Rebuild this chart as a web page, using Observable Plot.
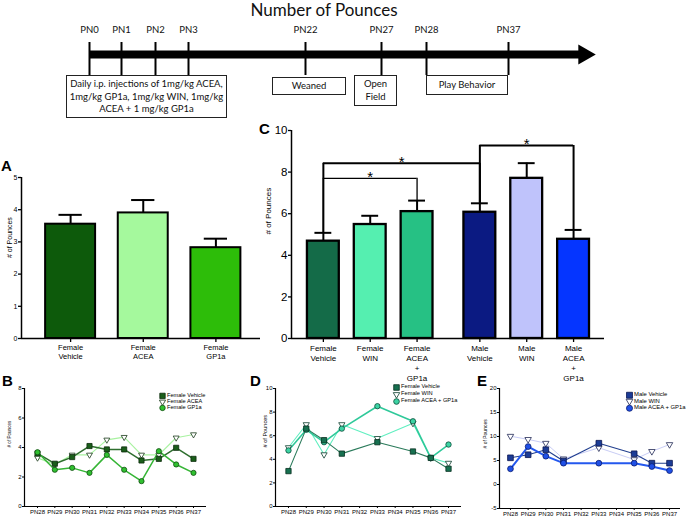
<!DOCTYPE html>
<html><head><meta charset="utf-8">
<script src="https://cdn.jsdelivr.net/npm/d3@7"></script>
<script src="https://cdn.jsdelivr.net/npm/@observablehq/plot@0.6"></script>
<style>
html,body{margin:0;padding:0;background:#fff;overflow:hidden}
#root{position:relative;width:688px;height:518px;font-family:"Liberation Sans",Arial,sans-serif;color:#000}
#root svg.p{position:absolute;left:0;top:0}
.t{position:absolute;white-space:nowrap;line-height:1}
.box{position:absolute;border:1px solid #222;box-sizing:border-box;text-align:center;font-family:Lato,"Open Sans",sans-serif;font-size:9.5px;line-height:12.5px;color:#111}
.lg{position:absolute;font-size:5.7px;line-height:1;white-space:nowrap}
.lg .row{position:absolute;left:0;display:flex;align-items:center}
.lg svg{display:block;overflow:visible}
</style></head>
<body><div id="root"></div>
<script>
// ---------------- data ----------------
const titleText = "Number of Pounces";
const timelineLabels = ["PN0","PN1","PN2","PN3","PN22","PN27","PN28","PN37"];
const timelineDays = [0,1,2,3,22,27,28,37];

const aGroups = ["Female Vehicle","Female ACEA","Female GP1a"];
const aMeans = [3.55, 3.9, 2.82];
const aSems = [0.29, 0.4, 0.28];
const aColors = ["#0d5a0b","#a5f99d","#2dbd09"];

const cGroups = ["Female Vehicle","Female WIN","Female ACEA + GP1a","Male Vehicle","Male WIN","Male ACEA + GP1a"];
const cSex = ["Female","Female","Female","Male","Male","Male"];
const cMeans = [4.68, 5.48, 6.1, 6.07, 7.7, 4.77];
const cSems = [0.4, 0.42, 0.53, 0.43, 0.73, 0.45];
const cColors = ["#146b48","#55efb0","#26c184","#0b1a82","#bfc3fb","#0535ff"];
const cComparisons = [
  ["Female Vehicle","Female ACEA + GP1a", 7.7],
  ["Female Vehicle","Male Vehicle", 8.42],
  ["Male Vehicle","Male ACEA + GP1a", 9.28]
];

const pnDays = ["PN28","PN29","PN30","PN31","PN32","PN33","PN34","PN35","PN36","PN37"];
const bFemaleVehicle = [3.6, 2.9, 3.35, 4.1, 3.87, 3.87, 3.12, 3.23, 3.98, 3.23];
const bFemaleACEA    = [3.3, 2.85, 3.5, 3.5, 4.52, 4.7, 3.5, 3.5, 4.66, 4.88];
const bFemaleGP1a    = [3.68, 2.49, 2.62, 2.28, 3.5, 2.49, 1.72, 3.75, 2.85, 2.28];

const dFemaleVehicle = [3.0, 6.6, 5.62, 4.48, null, 5.45, null, 4.66, 4.12, 3.2];
const dFemaleWIN     = [5.0, 6.95, 4.4, 6.95, null, 5.78, null, 7.05, 4.12, 3.68];
const dFemaleCombo   = [4.75, 6.5, 5.45, 6.6, null, 8.5, null, 7.22, 4.12, 5.25];

const eMaleVehicle = [5.56, 6.2, 7.25, 4.9, null, 8.6, null, 6.4, 4.44, 4.44];
const eMaleWIN     = [10.06, 9.4, 8.6, 5.35, null, 7.65, null, 5.2, 6.9, 8.33];
const eMaleCombo   = [3.27, 7.9, 5.9, 4.44, null, 4.44, null, 4.44, 3.75, 2.9];

// ---------------- helpers ----------------
const root = document.getElementById("root");
const FONT = "'Liberation Sans', Arial, sans-serif";
const baseStyle = {background: "transparent", overflow: "visible", fontFamily: FONT, color: "#000"};
const plainNum = d => String(d);
function addPlot(opts) {
  const svg = Plot.plot(Object.assign({width: 688, height: 518, style: baseStyle}, opts));
  svg.classList.add("p");
  svg.style.position = "absolute"; svg.style.left = "0"; svg.style.top = "0";
  svg.style.maxWidth = "none";
  root.appendChild(svg);
  return svg;
}
function addText(str, left, top, css) {
  const d = document.createElement("div");
  d.className = "t"; d.textContent = str;
  d.style.left = left + "px"; d.style.top = top + "px";
  Object.assign(d.style, css || {});
  root.appendChild(d);
  return d;
}
function addBox(lines, left, top, w, h, padTop) {
  const d = document.createElement("div");
  d.className = "box";
  Object.assign(d.style, {left: left + "px", top: top + "px", width: w + "px", height: h + "px", paddingTop: padTop + "px"});
  d.innerHTML = lines.map(s => `<div>${s}</div>`).join("");
  root.appendChild(d);
}
const symbolTypes = {square: d3.symbolSquare, circle: d3.symbolCircle, triangle: d3.symbolTriangle};
function addLegend(series, left, top, rowH, fontSize) {
  const lg = document.createElement("div");
  lg.className = "lg";
  lg.style.left = left + "px"; lg.style.top = top + "px"; lg.style.fontSize = fontSize + "px";
  series.forEach((s, i) => {
    const row = document.createElement("div");
    row.className = "row";
    row.style.top = (i * rowH) + "px"; row.style.height = rowH + "px";
    const sv = d3.create("svg").attr("width", 7).attr("height", rowH);
    sv.append("path")
      .attr("d", d3.symbol(symbolTypes[s.symbol], Math.PI * s.r * s.r * 1.1)())
      .attr("transform", `translate(3.5,${rowH / 2}) rotate(${s.rotate || 0})`)
      .attr("fill", s.fill).attr("stroke", s.stroke).attr("stroke-width", 0.8);
    row.appendChild(sv.node());
    const sp = document.createElement("span");
    sp.textContent = s.name; sp.style.marginLeft = "1px";
    row.appendChild(sp);
    lg.appendChild(row);
  });
  root.appendChild(lg);
}

// ---------------- title + timeline ----------------
addText(titleText, 324, 1, {fontFamily: "Lato, 'Open Sans', sans-serif", fontSize: "17px", transform: "translateX(-50%)", color: "#111"});

const events = timelineLabels.map((label, i) => ({label, day: timelineDays[i]}));
const arrowEnd = 45.3;
addPlot({
  marginTop: 0, marginBottom: 0, marginLeft: 0, marginRight: 0,
  x: {type: "linear", domain: timelineDays, range: [89, 121, 155, 188, 305, 381, 426, 508], axis: null},
  y: {domain: [0, 1], range: [42, 75], axis: null},
  marks: [
    Plot.ruleY([0.364], {x1: () => 0, x2: () => arrowEnd, strokeWidth: 8, stroke: "#000"}),
    Plot.dot([arrowEnd], {x: d => d, y: () => 0.364, symbol: "triangle", rotate: 90, r: 7.5, fill: "#000", stroke: "none"}),
    Plot.ruleX(events, {x: "day", y1: () => 0, y2: () => 1, strokeWidth: 2, stroke: "#000"}),
    Plot.text(events, {x: "day", y: () => 0, text: "label", dy: -13, fontSize: 9.5, fontFamily: "Lato, 'Open Sans', sans-serif", fill: "#111"})
  ]
});
addBox(["Daily i.p. injections of 1mg/kg ACEA,", "1mg/kg GP1a, 1mg/kg WIN, 1mg/kg", "ACEA + 1 mg/kg GP1a"], 66, 75, 161, 43, 2);
addBox(["Weaned"], 272, 77, 74, 18, 2);
addBox(["Open", "Field"], 354, 75, 43, 31, 2);
addBox(["Play Behavior"], 426, 75, 82, 20, 3);

// ---------------- panel A ----------------
const A_HALF = 0.344, A_CAP = 0.16;
const aData = aGroups.map((g, i) => ({group: g, slot: i, mean: aMeans[i], sem: aSems[i], color: aColors[i]}));
const aXMin = -0.676;
addPlot({
  marginLeft: 21, marginRight: 428, marginTop: 177, marginBottom: 180,
  x: {domain: [aXMin, 2.614], axis: null},
  y: {domain: [0, 5], axis: null},
  color: {type: "identity"},
  marks: [
    Plot.ruleX(aData, {x: "slot", y1: "mean", y2: d => d.mean + d.sem, stroke: "#000", strokeWidth: 2}),
    Plot.ruleY(aData, {x1: d => d.slot - A_CAP, x2: d => d.slot + A_CAP, y: d => d.mean + d.sem, stroke: "#000", strokeWidth: 2}),
    Plot.rect(aData, {x1: d => d.slot - A_HALF, x2: d => d.slot + A_HALF, y1: () => 0, y2: "mean", fill: "color", stroke: "#000", strokeWidth: 2}),
    Plot.axisY({ticks: [0, 1, 2, 3, 4, 5], tickFormat: plainNum, tickSize: 3, tickPadding: 1, fontSize: 7, strokeWidth: 1.3, label: null}),
    Plot.axisX({ticks: [0, 1, 2], tickFormat: d => aGroups[d].replace(" ", "\n"), tickSize: 4, tickPadding: 1, fontSize: 7.5, lineHeight: 1.2, strokeWidth: 1.3, label: null}),
    Plot.ruleX([aXMin], {strokeWidth: 1.5}),
    Plot.ruleY([0], {strokeWidth: 1.5}),
    Plot.text(["# of Pounces"], {frameAnchor: "left", rotate: -90, dx: -12, fontSize: 7})
  ]
});

// ---------------- panel C ----------------
const C_GAP = 0.34, C_HALF = 0.34, C_CAP = 0.18;
const cData = cGroups.map((g, i) => ({group: g, slot: i + (cSex[i] === "Male" ? C_GAP : 0), mean: cMeans[i], sem: cSems[i], color: cColors[i]}));
const cByGroup = new Map(cData.map(d => [d.group, d]));
const brackets = cComparisons.map(([a, b, level]) => ({
  xa: cByGroup.get(a).slot, xb: cByGroup.get(b).slot, level,
  topA: cByGroup.get(a).mean + cByGroup.get(a).sem, topB: cByGroup.get(b).mean + cByGroup.get(b).sem
}));
const cXMin = -0.68;
const bw = (d, i) => (i === 0 ? 1.3 : 2);
addPlot({
  marginLeft: 291, marginRight: 84, marginTop: 130, marginBottom: 180,
  x: {domain: [cXMin, 6.0], axis: null},
  y: {domain: [0, 10], axis: null},
  color: {type: "identity"},
  marks: [
    Plot.ruleX(cData, {x: "slot", y1: "mean", y2: d => d.mean + d.sem, stroke: "#000", strokeWidth: 2}),
    Plot.ruleY(cData, {x1: d => d.slot - C_CAP, x2: d => d.slot + C_CAP, y: d => d.mean + d.sem, stroke: "#000", strokeWidth: 2}),
    Plot.rect(cData, {x1: d => d.slot - C_HALF, x2: d => d.slot + C_HALF, y1: () => 0, y2: "mean", fill: "color", stroke: "#000", strokeWidth: 2.3}),
    Plot.ruleY(brackets, {x1: "xa", x2: "xb", y: "level", stroke: "#000", strokeWidth: bw}),
    Plot.ruleX(brackets, {x: "xa", y1: "level", y2: "topA", stroke: "#000", strokeWidth: bw}),
    Plot.ruleX(brackets, {x: "xb", y1: "level", y2: "topB", stroke: "#000", strokeWidth: bw}),
    Plot.text(brackets, {x: d => (d.xa + d.xb) / 2, y: "level", text: () => "*", fontSize: 15, dy: -1.5, fill: "#000"}),
    Plot.axisY({ticks: [0, 2, 4, 6, 8, 10], tickFormat: plainNum, tickSize: 3, tickPadding: 1, fontSize: 11.5, strokeWidth: 1.3, label: null}),
    Plot.axisX({ticks: cData.map(d => d.slot), tickFormat: (d, i) => cGroups[i].replace(" ", "\n").replace(" + ", "\n+\n"), tickSize: 4, tickPadding: 1, fontSize: 8, lineHeight: 1.25, strokeWidth: 1.3, label: null}),
    Plot.ruleX([cXMin], {strokeWidth: 1.5}),
    Plot.ruleY([0], {strokeWidth: 1.5}),
    Plot.text(["# of Pounces"], {frameAnchor: "left", rotate: -90, dx: -23, fontSize: 8})
  ]
});

// ---------------- line panels ----------------
function linePanel(cfg) {
  const pts = cfg.series.flatMap(s => pnDays.map((day, i) => ({idx: i, v: s.values[i], name: s.name})).filter(p => p.v != null));
  const marks = [];
  cfg.series.forEach(s => {
    marks.push(Plot.line(pts.filter(p => p.name === s.name), {x: "idx", y: "v", stroke: s.line, strokeWidth: s.lineWidth}));
  });
  cfg.series.forEach(s => {
    marks.push(Plot.dot(pts.filter(p => p.name === s.name), {x: "idx", y: "v", symbol: s.symbol, r: s.r, rotate: s.rotate || 0, fill: s.fill, stroke: s.stroke, strokeWidth: 0.8}));
  });
  marks.push(
    Plot.axisY({ticks: cfg.yTicks, tickFormat: plainNum, tickSize: 2, tickPadding: 1, fontSize: 6, strokeWidth: 1, label: null}),
    Plot.axisX({ticks: d3.range(pnDays.length), tickFormat: d => pnDays[d], tickSize: 2, tickPadding: 1, fontSize: 6, strokeWidth: 1, label: null}),
    Plot.ruleX([cfg.xDomain[0]], {strokeWidth: 1.2}),
    Plot.ruleY([cfg.yDomain[0]], {strokeWidth: 1.2}),
    Plot.text(["# of Pounces"], {frameAnchor: "left", rotate: -90, dx: cfg.labelDx, fontSize: cfg.labelSize})
  );
  addPlot({
    marginLeft: cfg.left, marginRight: 688 - cfg.right, marginTop: cfg.top, marginBottom: 518 - cfg.bottom,
    x: {domain: cfg.xDomain, axis: null},
    y: {domain: cfg.yDomain, axis: null},
    marks
  });
}

const seriesB = [
  {name: "Female Vehicle", values: bFemaleVehicle, line: "#2f6f2f", lineWidth: 1.5, symbol: "square", r: 2.9, fill: "#1a5e1a", stroke: "#0b2b0b"},
  {name: "Female ACEA", values: bFemaleACEA, line: "#a8f2a0", lineWidth: 1.2, symbol: "triangle", rotate: 180, r: 2.2, fill: "#fff", stroke: "#1a3a1a"},
  {name: "Female GP1a", values: bFemaleGP1a, line: "#35b535", lineWidth: 1.5, symbol: "circle", r: 2.6, fill: "#30c030", stroke: "#124d12"}
];
linePanel({series: [seriesB[1], seriesB[0], seriesB[2]], left: 24, right: 206, top: 388, bottom: 506,
  xDomain: [-0.75, 9.75], yDomain: [0, 8], yTicks: [0, 2, 4, 6, 8], labelDx: -15, labelSize: 4.6});
addLegend(seriesB, 159, 393, 5.8, 5.6);

const seriesD = [
  {name: "Female Vehicle", values: dFemaleVehicle, line: "#2a7a5a", lineWidth: 1.1, symbol: "square", r: 3, fill: "#177050", stroke: "#08301f"},
  {name: "Female WIN", values: dFemaleWIN, line: "#60efc0", lineWidth: 1.1, symbol: "triangle", rotate: 180, r: 2.3, fill: "#fff", stroke: "#0d3d2d"},
  {name: "Female ACEA + GP1a", values: dFemaleCombo, line: "#2fc99a", lineWidth: 1.6, symbol: "circle", r: 2.7, fill: "#3cd3a3", stroke: "#0d4a38"}
];
linePanel({series: [seriesD[1], seriesD[2], seriesD[0]], left: 275, right: 461, top: 388, bottom: 506,
  xDomain: [-0.73, 9.73], yDomain: [0, 10], yTicks: [0, 2, 4, 6, 8, 10], labelDx: -10, labelSize: 5.6});
addLegend(seriesD, 393, 383.5, 7, 5.7);

const seriesE = [
  {name: "Male Vehicle", values: eMaleVehicle, line: "#23408f", lineWidth: 1.1, symbol: "square", r: 3.2, fill: "#1c3c96", stroke: "#0a1550"},
  {name: "Male WIN", values: eMaleWIN, line: "#c9cdf5", lineWidth: 1, symbol: "triangle", rotate: 180, r: 2.4, fill: "#fff", stroke: "#222a55"},
  {name: "Male ACEA + GP1a", values: eMaleCombo, line: "#2458ee", lineWidth: 2, symbol: "circle", r: 2.9, fill: "#2050e6", stroke: "#0b1d70"}
];
linePanel({series: [seriesE[1], seriesE[0], seriesE[2]], left: 499, right: 680, top: 388, bottom: 508,
  xDomain: [-0.62, 9.62], yDomain: [-5, 20], yTicks: [-5, 0, 5, 10, 15, 20], labelDx: -14, labelSize: 5});
addLegend(seriesE, 626, 391.8, 6.5, 5.9);

// ---------------- panel letters ----------------
const letterCss = {fontSize: "15px", fontWeight: "bold", fontFamily: FONT};
addText("A", 1, 158, letterCss);
addText("B", 2, 373, letterCss);
addText("C", 259, 121, letterCss);
addText("D", 250, 373, letterCss);
addText("E", 477, 373, letterCss);
</script></body></html>
